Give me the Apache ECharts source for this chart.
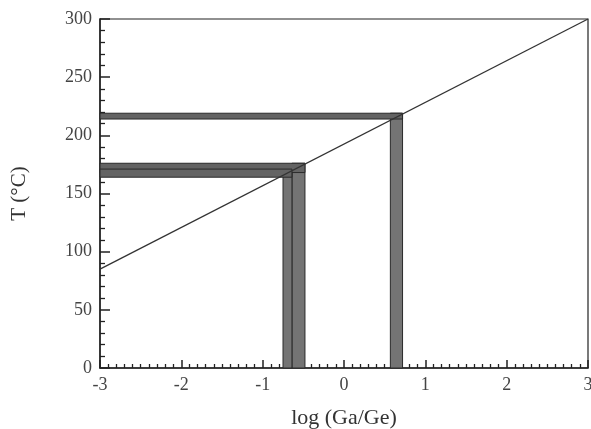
<!DOCTYPE html>
<html><head><meta charset="utf-8">
<script src="https://cdn.jsdelivr.net/npm/echarts@6/dist/echarts.min.js"></script>
<style>html,body{margin:0;padding:0;background:#fff}#c{width:591px;height:429px}</style>
</head><body><div id="c"></div>
<script>
var xTicks = [-3, -2, -1, 0, 1, 2, 3];
var yTicks = [0, 50, 100, 150, 200, 250, 300];
// diagonal line endpoints [log(Ga/Ge), T]
var lineX = [-3, 3];
var lineT = [85, 300];
// horizontal bands: [xStart, xEnd, tLow, tHigh]
var hBands = [
  [-3, 0.72, 214, 219],
  [-3, -0.48, 168, 176],
  [-3, -0.64, 164, 171]
];
// vertical bands: [xLow, xHigh, tBottom, tTop]
var vBands = [
  [0.57, 0.72, 0, 219],
  [-0.64, -0.48, 0, 176],
  [-0.75, -0.64, 0, 171]
];

var chart = echarts.init(document.getElementById('c'), null, {renderer: 'canvas'});
function makeRect(fill) {
  return function (params, api) {
    var p0 = api.coord([api.value(0), api.value(3)]);
    var p1 = api.coord([api.value(1), api.value(2)]);
    return {
      type: 'rect',
      shape: {x: p0[0], y: p0[1], width: p1[0] - p0[0], height: p1[1] - p0[1]},
      style: {fill: fill, stroke: '#2a2a2a', lineWidth: 1}
    };
  };
}
var font = 'Liberation Serif';
chart.setOption({
  animation: false,
  grid: {left: 100, right: 3, top: 19, bottom: 61, show: true, borderColor: '#222', borderWidth: 1.2,
         containLabel: false, outerBoundsMode: 'none'},
  xAxis: {
    type: 'value', min: xTicks[0], max: xTicks[xTicks.length - 1], interval: 1,
    name: 'log (Ga/Ge)', nameLocation: 'middle', nameGap: 39,
    nameTextStyle: {fontFamily: font, fontSize: 22, color: '#333'},
    axisLine: {onZero: false, lineStyle: {color: '#222', width: 1.5}},
    axisTick: {inside: true, length: 8, lineStyle: {color: '#222', width: 1.5}},
    minorTick: {show: true, splitNumber: 10, length: 4, lineStyle: {color: '#222', width: 1.3}},
    splitLine: {show: false},
    axisLabel: {fontFamily: font, fontSize: 18, color: '#444', margin: 8}
  },
  yAxis: {
    type: 'value', min: yTicks[0], max: yTicks[yTicks.length - 1], interval: 50,
    name: 'T (°C)', nameLocation: 'middle', nameGap: 70, nameRotate: 90,
    nameTextStyle: {fontFamily: font, fontSize: 21, color: '#333'},
    axisLine: {show: true, onZero: false, lineStyle: {color: '#222', width: 1.5}},
    axisTick: {show: true, inside: true, length: 10, lineStyle: {color: '#222', width: 1.5}},
    minorTick: {show: true, splitNumber: 5, length: 5, lineStyle: {color: '#222', width: 1.3}},
    splitLine: {show: false},
    axisLabel: {fontFamily: font, fontSize: 18, color: '#444', margin: 8}
  },
  series: [
    {type: 'custom', renderItem: makeRect('#747474'), data: vBands, z: 2},
    {type: 'custom', renderItem: makeRect('#636363'), data: hBands, z: 3},
    {type: 'line', data: lineX.map(function (x, i) { return [x, lineT[i]]; }),
     symbol: 'none', lineStyle: {color: '#333', width: 1.3}, z: 4}
  ]
});
</script></body></html>
